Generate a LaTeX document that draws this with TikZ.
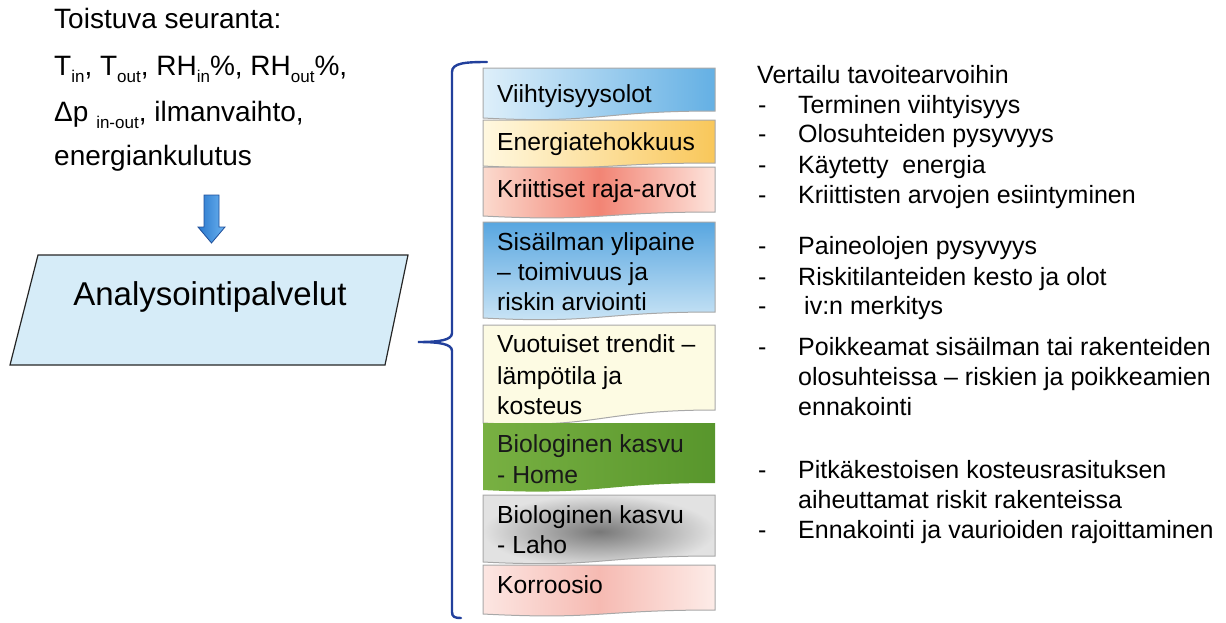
\documentclass[tikz,border=0pt]{standalone}
\usepackage{fontspec}
\setmainfont{Liberation Sans}
\newcommand{\sbx}[1]{\raisebox{-0.25em}{\fontsize{17}{17}\selectfont #1}}
\definecolor{bracecol}{HTML}{22409C}
\definecolor{boxline}{HTML}{A8A8A8}
\definecolor{arrline}{HTML}{1F4E99}
\definecolor{arrleft}{HTML}{2A78CC}
\definecolor{arrright}{HTML}{6AB2F0}
\tikzset{
  ltext/.style={anchor=base west, inner sep=0, font=\fontsize{28}{34}\selectfont},
  rtext/.style={anchor=base west, inner sep=0, font=\fontsize{25}{30}\selectfont},
  btext/.style={anchor=base west, inner sep=0, font=\fontsize{24.7}{30}\selectfont},
  boxborder/.style={draw=boxline, line width=1pt},
}
% document-shaped box: #1 top, #2 bottom-left, #3 bottom-right
\newcommand{\docbox}[4]{%
  \path[boxborder,#4] (483,#1) -- (715,#1) -- (715,#3)
    .. controls (599,#3) and (599,#2+6) .. (483,#2) -- cycle;}
\begin{document}
\begin{tikzpicture}[x=1pt,y=-1pt]
\useasboundingbox (0,0) rectangle (1226,622);
% left text
\node[ltext] (l1) at (54,28) {Toistuva seuranta:};
\node[ltext] (l2) at (54,75) {T\sbx{in}, T\sbx{out}, RH\sbx{in}\%, RH\sbx{out}\%,};
\node[ltext] (l3) at (54,121) {Δp \sbx{in-out}, ilmanvaihto,};
\node[ltext] (l4) at (54,165) {energiankulutus};
% block arrow
\path[draw=arrline, line width=0.8pt, left color=arrleft, right color=arrright]
  (204,195) -- (219,195) -- (219,227) -- (225,227) -- (211.5,243) -- (198,227) -- (204,227) -- cycle;
% parallelogram
\path[draw=black!85, line width=1.2pt, fill={rgb,255:red,214;green,236;blue,248}]
  (38,255) -- (408,255) -- (385,365) -- (10,365) -- cycle;
\node[anchor=base, inner sep=0, font=\fontsize{33}{40}\selectfont] (ana) at (210,305) {Analysointipalvelut};
% brace
\draw[bracecol, line width=2.4pt, line cap=round]
  (487,62) .. controls (465,62) and (452,63) .. (452,72) -- (452,333)
  .. controls (452,340) and (440,342) .. (418,342)
  .. controls (440,342) and (452,344) .. (452,351) -- (452,612)
  .. controls (452,617) and (455,618) .. (461,618);
% boxes
\docbox{68}{118}{111}{left color={rgb,255:red,222;green,239;blue,250}, right color={rgb,255:red,100;green,176;blue,228}}
\docbox{120}{166}{163}{left color={rgb,255:red,255;green,248;blue,224}, right color={rgb,255:red,249;green,199;blue,90}}
\docbox{167}{216}{212}{left color={rgb,255:red,251;green,218;blue,206}, right color={rgb,255:red,253;green,228;blue,220}, middle color={rgb,255:red,242;green,132;blue,116}}
\docbox{222}{318}{312}{top color={rgb,255:red,88;green,166;blue,224}, bottom color={rgb,255:red,205;green,230;blue,246}}
\docbox{325}{423}{410}{fill={rgb,255:red,253;green,251;blue,227}}
\docbox{423}{490}{483}{draw=none, left color={rgb,255:red,120;green,176;blue,66}, right color={rgb,255:red,88;green,150;blue,44}}
\docbox{495}{562}{556}{inner color={rgb,255:red,120;green,120;blue,120}, outer color={rgb,255:red,226;green,226;blue,226}}
\docbox{565}{614}{610}{left color={rgb,255:red,252;green,230;blue,226}, right color={rgb,255:red,253;green,236;blue,232}, middle color={rgb,255:red,246;green,186;blue,178}}
% box texts
\node[btext] (b1) at (497,102) {Viihtyisyysolot};
\node[btext] (b2) at (497,150) {Energiatehokkuus};
\node[btext] (b3) at (497,197) {Kriittiset raja-arvot};
\node[btext] (b4a) at (497,250) {Sisäilman ylipaine};
\node[btext] (b4b) at (497,280) {– toimivuus ja};
\node[btext] (b4c) at (497,310) {riskin arviointi};
\node[btext] (b5a) at (497,352) {Vuotuiset trendit –};
\node[btext] (b5b) at (497,384) {lämpötila ja};
\node[btext] (b5c) at (497,414) {kosteus};
\node[btext, text=black!90] (b6a) at (497,452) {Biologinen kasvu};
\node[btext, text=black!90] (b6b) at (497,483) {- Home};
\node[btext] (b7a) at (497,523) {Biologinen kasvu};
\node[btext] (b7b) at (497,553) {- Laho};
\node[btext] (b8) at (497,593) {Korroosio};
% right texts
\node[rtext] (r0) at (757,83) {Vertailu tavoitearvoihin};
\foreach \y/\t [count=\i] in {113/Terminen viihtyisyys, 142/Olosuhteiden pysyvyys, 173/Käytetty~ energia, 203/Kriittisten arvojen esiintyminen, 254/Paineolojen pysyvyys, 285/Riskitilanteiden kesto ja olot, 355/Poikkeamat sisäilman tai rakenteiden, 478/Pitkäkestoisen kosteusrasituksen, 538/Ennakointi ja vaurioiden rajoittaminen}{
  \node[rtext] (d\i) at (758,\y) {-};
  \node[rtext] (r\i) at (798,\y) {\t};
}
\node[rtext] (d10) at (758,314) {-};
\node[rtext] (r10) at (804,314) {iv:n merkitys};
\node[rtext] (r7b) at (798,385) {olosuhteissa – riskien ja poikkeamien};
\node[rtext] (r7c) at (798,415) {ennakointi};
\node[rtext] (r8b) at (798,508) {aiheuttamat riskit rakenteissa};
\end{tikzpicture}
\end{document}
